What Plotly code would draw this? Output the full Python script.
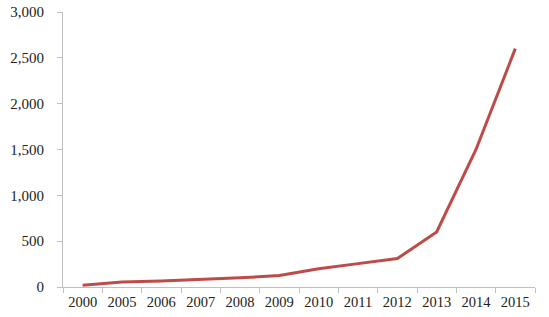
import plotly.graph_objects as go

years = ["2000", "2005", "2006", "2007", "2008", "2009", "2010", "2011", "2012", "2013", "2014", "2015"]
values = [20, 55, 65, 80, 100, 125, 200, 255, 310, 600, 1500, 2600]
y_ticks = [0, 500, 1000, 1500, 2000, 2500, 3000]
y_tick_labels = ["0", "500", "1,000", "1,500", "2,000", "2,500", "3,000"]

fig = go.Figure()
fig.add_trace(go.Scatter(
    x=years, y=values, mode="lines",
    line=dict(color="#BE4B48", width=3),
    showlegend=False,
))

fig.update_layout(
    width=549, height=317,
    margin=dict(l=63, r=14, t=12, b=30),
    paper_bgcolor="white", plot_bgcolor="white",
    font=dict(family="Liberation Serif, Times New Roman, serif", size=14, color="#222222"),
)
fig.update_xaxes(
    type="category",
    range=[-0.5, len(years) - 0.5],
    showline=True, linecolor="#BFBFBF", linewidth=1,
    ticks="outside", tickson="boundaries", ticklen=5, tickcolor="#BFBFBF",
    ticklabelstandoff=2, tickangle=0, tickfont=dict(size=14.5),
    showgrid=False, zeroline=False, automargin=False,
)
fig.update_yaxes(
    range=[0, 3000],
    tickvals=y_ticks, ticktext=y_tick_labels,
    showline=True, linecolor="#BFBFBF", linewidth=1,
    ticks="outside", ticklen=5, tickcolor="#BFBFBF",
    ticklabelstandoff=10, tickfont=dict(size=15),
    showgrid=False, zeroline=False, automargin=False,
)

fig.write_html("out.html")
